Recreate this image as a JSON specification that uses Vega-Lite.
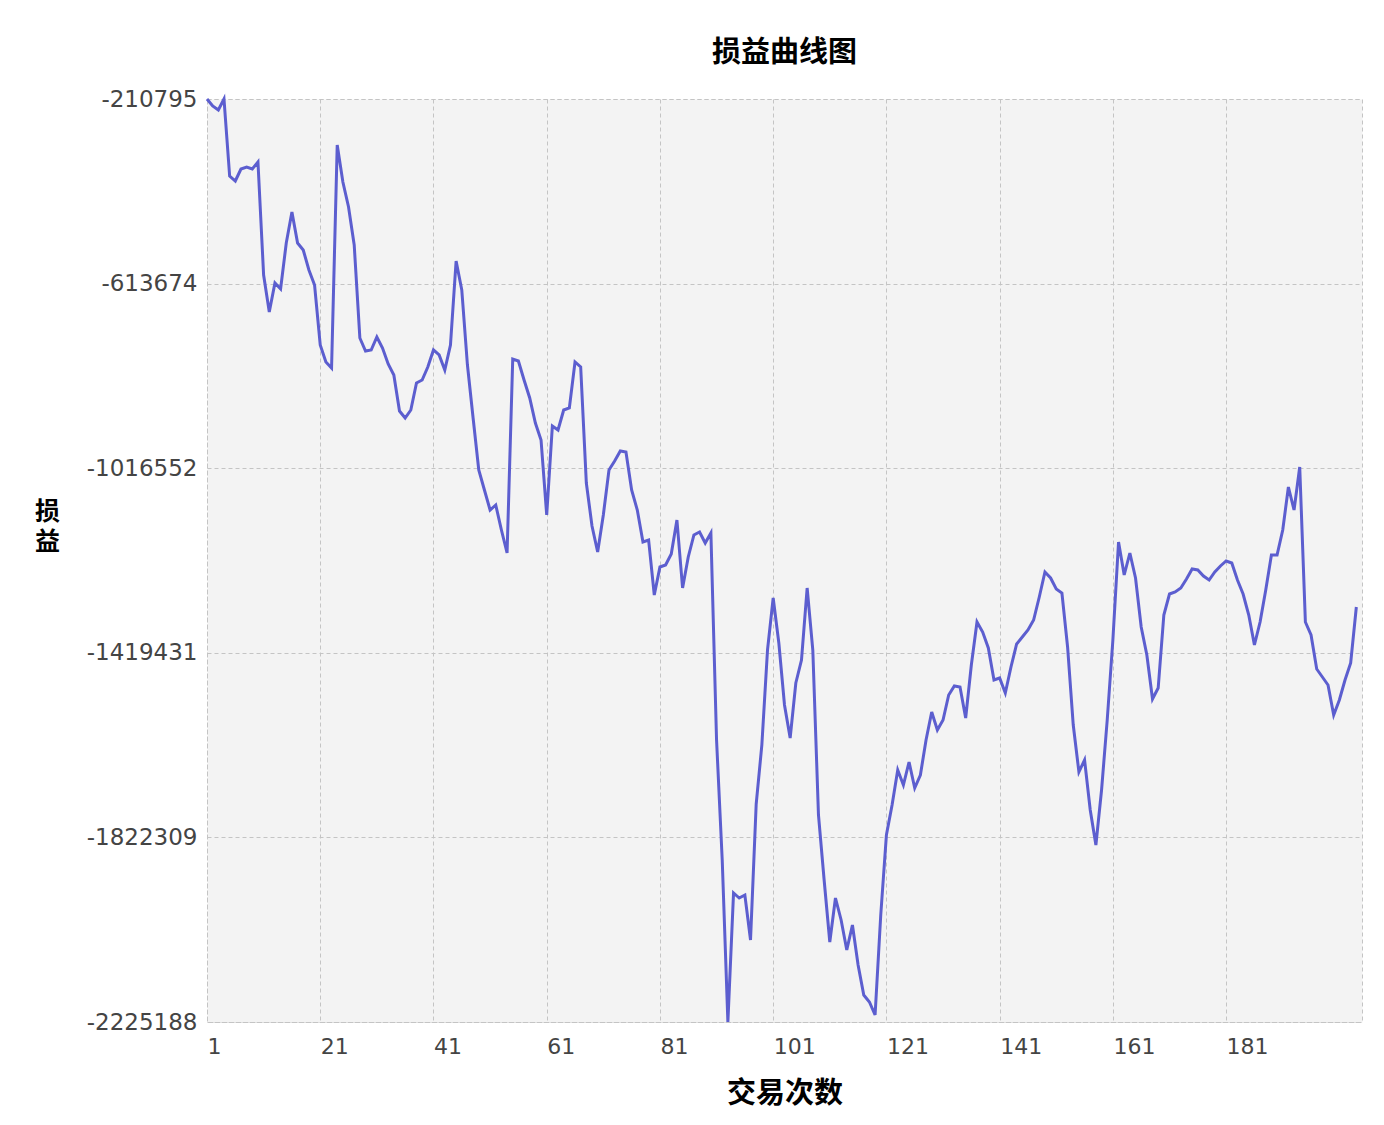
{
  "$schema": "https://vega.github.io/schema/vega-lite/v6.json",
  "autosize": {"type": "none"},
  "padding": {"left": 207, "top": 99, "right": 22, "bottom": 103},
  "width": 1155,
  "height": 923,
  "background": "#ffffff",
  "title": {
    "text": "损益曲线图",
    "font": "Noto Sans CJK SC",
    "fontSize": 29,
    "fontWeight": "bold",
    "color": "#000000",
    "anchor": "middle",
    "frame": "group",
    "offset": 20
  },
  "data": {
    "values": [
      {"n":1,"v":-210795},{"n":2,"v":-226072},{"n":3,"v":-234802},{"n":4,"v":-210795},{"n":5,"v":-378843},
      {"n":6,"v":-389755},{"n":7,"v":-363566},{"n":8,"v":-359201},{"n":9,"v":-363566},{"n":10,"v":-348289},
      {"n":11,"v":-594904},{"n":12,"v":-675655},{"n":13,"v":-612364},{"n":14,"v":-625459},{"n":15,"v":-525066},
      {"n":16,"v":-457411},{"n":17,"v":-525066},{"n":18,"v":-540343},{"n":19,"v":-583992},{"n":20,"v":-616729},
      {"n":21,"v":-747675},{"n":22,"v":-784777},{"n":23,"v":-797871},{"n":24,"v":-311187},{"n":25,"v":-391938},
      {"n":26,"v":-446499},{"n":27,"v":-529431},{"n":28,"v":-732398},{"n":29,"v":-760770},{"n":30,"v":-758587},
      {"n":31,"v":-730216},{"n":32,"v":-754223},{"n":33,"v":-789142},{"n":34,"v":-813148},{"n":35,"v":-891716},
      {"n":36,"v":-906993},{"n":37,"v":-889534},{"n":38,"v":-830608},{"n":39,"v":-824061},{"n":40,"v":-795689},
      {"n":41,"v":-758587},{"n":42,"v":-769500},{"n":43,"v":-802236},{"n":44,"v":-747675},{"n":45,"v":-564350},
      {"n":46,"v":-627641},{"n":47,"v":-791324},{"n":48,"v":-906993},{"n":49,"v":-1020480},{"n":50,"v":-1064129},
      {"n":51,"v":-1107778},{"n":52,"v":-1096866},{"n":53,"v":-1151427},{"n":54,"v":-1201623},{"n":55,"v":-778229},
      {"n":56,"v":-782594},{"n":57,"v":-824061},{"n":58,"v":-863345},{"n":59,"v":-917906},{"n":60,"v":-955007},
      {"n":61,"v":-1118690},{"n":62,"v":-924453},{"n":63,"v":-933183},{"n":64,"v":-889534},{"n":65,"v":-885169},
      {"n":66,"v":-784777},{"n":67,"v":-795689},{"n":68,"v":-1048852},{"n":69,"v":-1142697},{"n":70,"v":-1199440},
      {"n":71,"v":-1118690},{"n":72,"v":-1020480},{"n":73,"v":-1000838},{"n":74,"v":-979014},{"n":75,"v":-981196},
      {"n":76,"v":-1064129},{"n":77,"v":-1107778},{"n":78,"v":-1177616},{"n":79,"v":-1173251},{"n":80,"v":-1293285},
      {"n":81,"v":-1232177},{"n":82,"v":-1227812},{"n":83,"v":-1203805},{"n":84,"v":-1129602},{"n":85,"v":-1278008},
      {"n":86,"v":-1210353},{"n":87,"v":-1162339},{"n":88,"v":-1155792},{"n":89,"v":-1179798},{"n":90,"v":-1157974},
      {"n":91,"v":-1609739},{"n":92,"v":-1871632},{"n":93,"v":-2225188},{"n":94,"v":-1943652},{"n":95,"v":-1954565},
      {"n":96,"v":-1948017},{"n":97,"v":-2046227},{"n":98,"v":-1749415},{"n":99,"v":-1620651},{"n":100,"v":-1413319},
      {"n":101,"v":-1299833},{"n":102,"v":-1398042},{"n":103,"v":-1533354},{"n":104,"v":-1605374},{"n":105,"v":-1485340},
      {"n":106,"v":-1435144},{"n":107,"v":-1278008},{"n":108,"v":-1413319},{"n":109,"v":-1773422},{"n":110,"v":-1915281},
      {"n":111,"v":-2050592},{"n":112,"v":-1954565},{"n":113,"v":-2002578},{"n":114,"v":-2068051},{"n":115,"v":-2013490},
      {"n":116,"v":-2100788},{"n":117,"v":-2166261},{"n":118,"v":-2181538},{"n":119,"v":-2209910},{"n":120,"v":-1991666},
      {"n":121,"v":-1817071},{"n":122,"v":-1751598},{"n":123,"v":-1675212},{"n":124,"v":-1707949},{"n":125,"v":-1657753},
      {"n":126,"v":-1714496},{"n":127,"v":-1686124},{"n":128,"v":-1609739},{"n":129,"v":-1548631},{"n":130,"v":-1587915},
      {"n":131,"v":-1566090},{"n":132,"v":-1511529},{"n":133,"v":-1491887},{"n":134,"v":-1494070},{"n":135,"v":-1561725},
      {"n":136,"v":-1446056},{"n":137,"v":-1352211},{"n":138,"v":-1374036},{"n":139,"v":-1408955},{"n":140,"v":-1478793},
      {"n":141,"v":-1474428},{"n":142,"v":-1507164},{"n":143,"v":-1450421},{"n":144,"v":-1400225},{"n":145,"v":-1384948},
      {"n":146,"v":-1369671},{"n":147,"v":-1347846},{"n":148,"v":-1297650},{"n":149,"v":-1243089},{"n":150,"v":-1256184},
      {"n":151,"v":-1280191},{"n":152,"v":-1288920},{"n":153,"v":-1406772},{"n":154,"v":-1577002},{"n":155,"v":-1679577},
      {"n":156,"v":-1653388},{"n":157,"v":-1762510},{"n":158,"v":-1838895},{"n":159,"v":-1718861},{"n":160,"v":-1566090},
      {"n":161,"v":-1391495},{"n":162,"v":-1177616},{"n":163,"v":-1249636},{"n":164,"v":-1201623},{"n":165,"v":-1256184},
      {"n":166,"v":-1363123},{"n":167,"v":-1424232},{"n":168,"v":-1520259},{"n":169,"v":-1496252},{"n":170,"v":-1336934},
      {"n":171,"v":-1291103},{"n":172,"v":-1286738},{"n":173,"v":-1278008},{"n":174,"v":-1258366},{"n":175,"v":-1236542},
      {"n":176,"v":-1238724},{"n":177,"v":-1251819},{"n":178,"v":-1260549},{"n":179,"v":-1243089},{"n":180,"v":-1229994},
      {"n":181,"v":-1219082},{"n":182,"v":-1223447},{"n":183,"v":-1260549},{"n":184,"v":-1291103},{"n":185,"v":-1336934},
      {"n":186,"v":-1402407},{"n":187,"v":-1352211},{"n":188,"v":-1282373},{"n":189,"v":-1205988},{"n":190,"v":-1205988},
      {"n":191,"v":-1151427},{"n":192,"v":-1057582},{"n":193,"v":-1107778},{"n":194,"v":-1013933},{"n":195,"v":-1352211},
      {"n":196,"v":-1380583},{"n":197,"v":-1454786},{"n":198,"v":-1472245},{"n":199,"v":-1489705},{"n":200,"v":-1555178},
      {"n":201,"v":-1522441},{"n":202,"v":-1478793},{"n":203,"v":-1441691},{"n":204,"v":-1319475}
    ]
  },
  "mark": {"type": "line", "color": "#5c5ecf", "strokeWidth": 3, "clip": false},
  "encoding": {
    "x": {
      "field": "n",
      "type": "quantitative",
      "scale": {"domain": [1, 205], "nice": false, "zero": false},
      "axis": {
        "values": [1, 21, 41, 61, 81, 101, 121, 141, 161, 181],
        "format": "d",
        "domain": false,
        "ticks": false,
        "grid": true,
        "gridColor": "#c4c4c4",
        "gridDash": [4, 3],
        "gridWidth": 1,
        "labelFont": "DejaVu Sans",
        "labelFontSize": 22,
        "labelColor": "#444444",
        "labelAlign": "left",
        "labelBaseline": "top",
        "labelDx": -6,
        "labelPadding": 14,
        "labelFlush": false,
        "labelOverlap": false,
        "title": "交易次数",
        "titleFont": "Noto Sans CJK SC",
        "titleFontSize": 29,
        "titleFontWeight": "bold",
        "titleColor": "#000000",
        "titleBaseline": "top",
        "titleAlign": "center",
        "titleY": 57
      }
    },
    "y": {
      "field": "v",
      "type": "quantitative",
      "scale": {"domain": [-2225188, -210795], "nice": false, "zero": false},
      "axis": {
        "values": [-210795, -613674, -1016552, -1419431, -1822309, -2225188],
        "labelExpr": "'' + datum.value",
        "domain": false,
        "ticks": false,
        "grid": true,
        "gridColor": "#c4c4c4",
        "gridDash": [4, 3],
        "gridWidth": 1,
        "labelFont": "DejaVu Sans",
        "labelFontSize": 23,
        "labelColor": "#444444",
        "labelPadding": 10,
        "labelFlush": false,
        "labelOverlap": false,
        "title": ["损", "益"],
        "titleFont": "Noto Sans CJK SC",
        "titleFontSize": 25,
        "titleFontWeight": "bold",
        "titleColor": "#000000",
        "titleAngle": 0,
        "titleAlign": "center",
        "titleBaseline": "top",
        "titleLineHeight": 30,
        "titleX": -160,
        "titleY": 400
      }
    }
  },
  "config": {
    "view": {"fill": "#f3f3f3", "stroke": "#c4c4c4", "strokeDash": [4, 3], "strokeWidth": 1}
  }
}
